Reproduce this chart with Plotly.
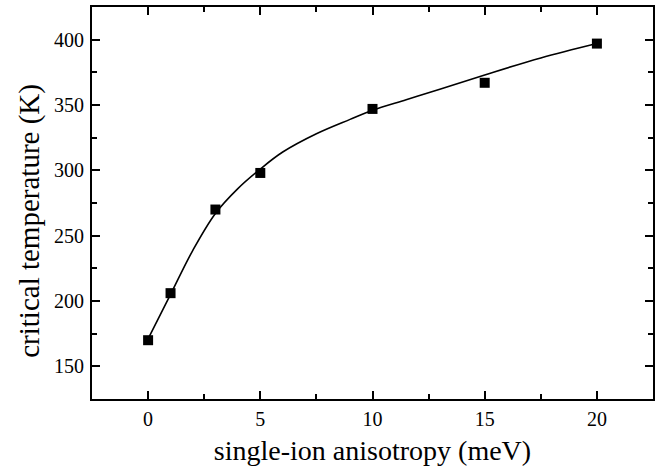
import plotly.graph_objects as go

# measured data points
anisotropy = [0, 1, 3, 5, 10, 15, 20]
tc = [170, 206, 270, 298, 347, 367, 397]

# fitted curve
curve_x = [0, 1, 2, 3, 4, 5, 6, 7.5, 9, 10, 11.5, 13, 15, 17.5, 20]
curve_y = [171, 205, 239, 267, 286, 301, 314, 328, 339, 346, 354, 362, 373, 386, 397]

x_ticks = [0, 5, 10, 15, 20]
y_ticks = [150, 200, 250, 300, 350, 400]

x_title = "single-ion anisotropy (meV)"
y_title = "critical temperature (K)"

fig = go.Figure()
fig.add_trace(go.Scatter(x=curve_x, y=curve_y, mode="lines",
                         line=dict(color="black", width=1.6, shape="spline", smoothing=1.0),
                         showlegend=False, hoverinfo="skip"))
fig.add_trace(go.Scatter(x=anisotropy, y=tc, mode="markers",
                         marker=dict(symbol="square", size=10, color="black"),
                         showlegend=False))

font = "Liberation Serif"
axis_common = dict(showgrid=False, zeroline=False, showline=True, linecolor="black",
                   linewidth=2, mirror="allticks", ticks="inside", ticklen=8,
                   tickwidth=2, tickcolor="black",
                   tickfont=dict(family=font, size=20, color="black"))

fig.update_xaxes(range=[-2.5, 22.5], tickvals=x_ticks, ticklabelstandoff=1,
                 minor=dict(dtick=2.5, tick0=0, ticks="inside", ticklen=5, tickwidth=2, tickcolor="black"),
                 title=dict(text=x_title, font=dict(family=font, size=28, color="black"), standoff=11),
                 **axis_common)
fig.update_yaxes(range=[125, 425], tickvals=y_ticks, ticklabelstandoff=2,
                 minor=dict(dtick=25, tick0=0, ticks="inside", ticklen=5, tickwidth=2, tickcolor="black"),
                 **axis_common)

fig.add_annotation(text=y_title, textangle=-90, xref="paper", yref="paper",
                   x=-0.112, y=0.455, xanchor="center", yanchor="middle", showarrow=False,
                   font=dict(family=font, size=29, color="black"))

fig.update_layout(width=672, height=472, margin=dict(l=92, r=19, t=5, b=73),
                  plot_bgcolor="white", paper_bgcolor="white",
                  font=dict(family=font, color="black"))
fig.write_html("out.html", config={"displayModeBar": False},
               post_script="document.body.style.margin='0';")
